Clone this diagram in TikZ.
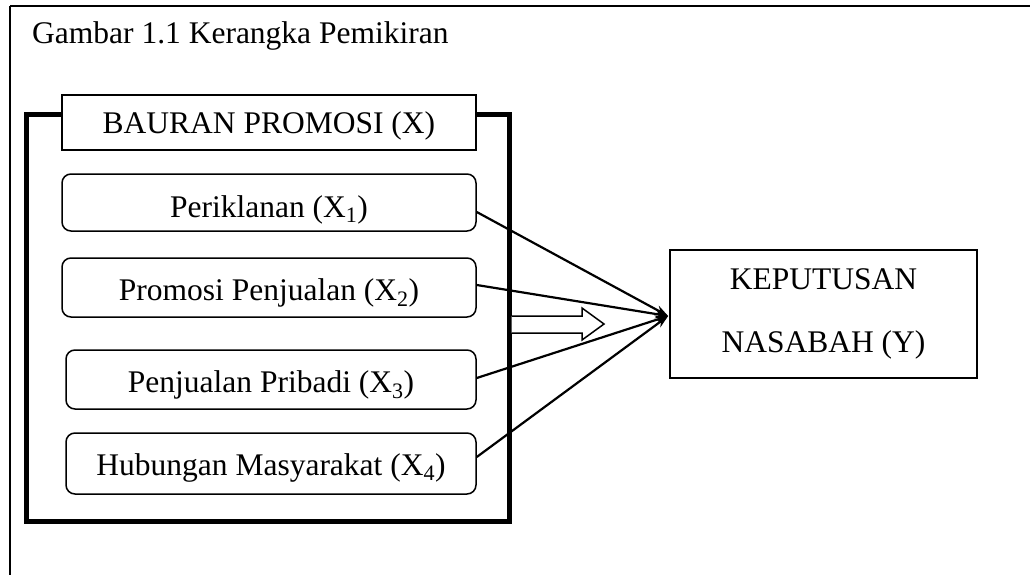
\documentclass[tikz,border=0pt]{standalone}
\usepackage{fontspec}
\setmainfont{Liberation Serif}
\usetikzlibrary{arrows.meta}
\tikzset{
  txt/.style={font=\fontsize{31.5}{36}\selectfont},
  plain/.style={draw, line width=1.5pt, inner sep=0pt, txt, text depth=0pt},
  rbox/.style={plain, rounded corners=9pt},
  conn/.style={line width=2.2pt, -{Stealth[length=13pt,width=9pt]}},
  frame/.style={line width=5pt},
  hollow/.style={draw, line width=1.5pt, fill=white, line join=miter}
}
\begin{document}
\begin{tikzpicture}[x=1pt,y=-1pt]
\useasboundingbox (0,0) rectangle (1030,575);
% outer frame (open at right and bottom)
\draw[line width=2.4pt] (10,6) -- (1030,6);
\draw[line width=1.3pt] (10,6) -- (10,575);
\node[txt, anchor=base west, inner sep=0pt] (title) at (32,44) {Gambar 1.1 Kerangka Pemikiran};
% thick frame
\draw[frame] (26,115) rectangle (509,521);
\node[plain, fill=white, minimum width=414pt, minimum height=55pt, text height=21pt] (bx) at (269,122.5) {BAURAN PROMOSI (X)};
% factor boxes
\node[rbox, minimum width=414pt, minimum height=57pt, text height=29pt] (p1) at (269,202.5) {Periklanan (X\textsubscript{1})};
\node[rbox, minimum width=414pt, minimum height=59pt, text height=25pt] (p2) at (269,287.5) {Promosi Penjualan (X\textsubscript{2})};
\node[rbox, minimum width=410pt, minimum height=59pt, text height=25pt] (p3) at (271,379.5) {Penjualan Pribadi (X\textsubscript{3})};
\node[rbox, minimum width=410pt, minimum height=61pt, text height=23pt] (p4) at (271,463.5) {Hubungan Masyarakat (X\textsubscript{4})};
% decision box
\node[draw, line width=1.7pt, minimum width=307pt, minimum height=128pt, align=center, font=\fontsize{31.5}{63}\selectfont] (y) at (823.5,314) {KEPUTUSAN\\NASABAH (Y)};
\coordinate (tip) at ([xshift=-1pt,yshift=-2pt]y.west);
% connectors
\draw[conn] ([yshift=-9.5pt]p1.east) -- (tip);
\draw[conn] ([yshift=2.5pt]p2.east) -- (tip);
\draw[conn] ([yshift=1.5pt]p3.east) -- (tip);
\draw[conn] ([yshift=6.5pt]p4.east) -- (tip);
% hollow block arrow
\draw[hollow] (511.5,316) -- (582,316) -- (582,308) -- (604,324) -- (582,340) -- (582,333) -- (511.5,333);
\end{tikzpicture}
\end{document}
